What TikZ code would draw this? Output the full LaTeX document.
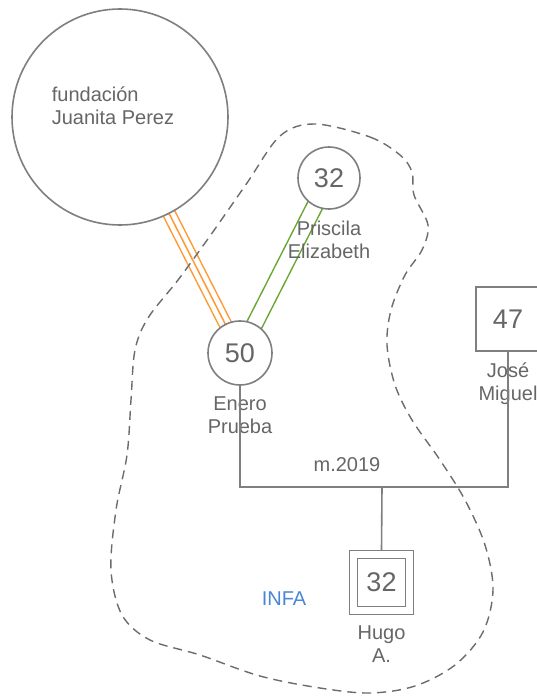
\documentclass[tikz,border=0pt]{standalone}
\usepackage{fontspec}
\setmainfont{Liberation Sans}
\usepackage{xcolor}
\usepackage{tikz}
\usetikzlibrary{backgrounds}
\definecolor{linegray}{HTML}{7F7F7F}
\definecolor{txtgray}{HTML}{666666}
\definecolor{orgline}{HTML}{FF9933}
\definecolor{grnline}{HTML}{66A632}
\definecolor{infablue}{HTML}{4A86D6}
\newcommand{\lblfont}{\fontsize{20}{23}\selectfont}
\newcommand{\agefont}{\fontsize{27}{32}\selectfont}

\begin{document}
\begin{tikzpicture}[
    x=1pt, y=-1pt,
    every node/.style={text=txtgray},
    person/.style={draw=linegray,fill=white,line width=1.6pt,font=\agefont,
                   inner sep=0pt},
    female/.style={person,circle},
    male/.style={person,rectangle,minimum size=64pt},
    nmlbl/.style={font=\lblfont,align=center,inner sep=0pt,text=txtgray,
                  label distance=11pt},
    rel/.style={draw=linegray,line width=1.6pt},
    tie3/.style={draw=orgline,line width=1.5pt},
    tie2/.style={draw=grnline,line width=1.5pt},
    zone/.style={draw=linegray!85!black,line width=1.4pt,dash pattern=on 9pt off 6pt}
  ]
  \useasboundingbox (0,0) rectangle (536,698);

  % persons
  \node[female,minimum size=216pt,
        label={[nmlbl,label distance=0pt,align=left,xshift=-7pt,yshift=11pt]center:fundación\\Juanita Perez}]
        (fund) at (120,117) {};
  \node[female,minimum size=62pt,label={[nmlbl]below:Priscila\\Elizabeth}]
        (priscila) at (329,178) {32};
  \node[female,minimum size=64pt,label={[nmlbl]below:Enero\\Prueba}]
        (enero) at (240,353) {50};
  \node[male,label={[nmlbl]below:José\\Miguel}]
        (jose) at (508,319) {47};
  \node[person,rectangle,minimum size=56pt,line width=1.4pt,double=white,
        double distance=6.5pt,outer sep=4pt,label={[nmlbl]below:Hugo\\A.}]
        (hugo) at (381.5,582.5) {32};

  % union
  \coordinate (union) at (382,487);
  \node[nmlbl] (anio) at (347,465) {m.2019};
  \node[nmlbl,text=infablue] (infa) at (284,599) {INFA};

  % relations
  \begin{scope}[on background layer]
    \draw[tie3,double=white,double distance=11pt] (fund.center) -- (enero.center);
    \draw[tie3] (fund.center) -- (enero.center);
    \draw[tie2,double=white,double distance=14.5pt] (priscila.center) -- (enero.center);
  \end{scope}
  \draw[rel] (enero.south) |- (union) -| (jose.south);
  \draw[rel] (union) -- (hugo.north);

  % household
  \draw[zone] plot[smooth cycle,tension=0.55] coordinates {
    (315,124) (370,137) (400,155) (412,172) (414,195) (428,225) (422,250)
    (405,275) (391,310) (387,345) (395,385) (412,420) (440,460) (465,500)
    (485,545) (493,590) (483,632) (455,665) (415,686) (370,693) (320,688)
    (260,676) (200,655) (150,640) (122,615) (111,570) (116,510) (127,455)
    (131,400) (135,350) (148,318) (178,280) (210,236) (247,183) (280,136)};

\end{tikzpicture}
\end{document}
